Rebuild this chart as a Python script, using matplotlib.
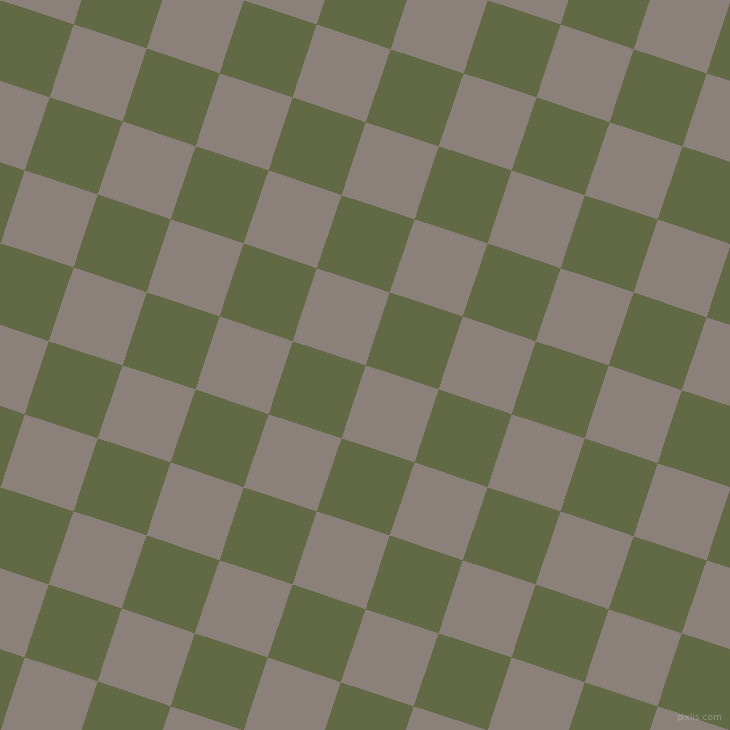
import numpy as np
import matplotlib
matplotlib.use("Agg")
import matplotlib.pyplot as plt
from matplotlib.colors import ListedColormap

# square colours (light, dark)
colors = ["#8b807a", "#616a45"]

# grid geometry (pixels)
origin = (74.0, 25.0)      # top-left corner of a light square
step_u = (73.03, 24.39)    # one square along the tilted rows
step_v = (-24.39, 73.03)   # one square down the tilted columns
idx = np.arange(-6, 16)

ii, jj = np.meshgrid(idx, idx)
X = origin[0] + ii * step_u[0] + jj * step_v[0]
Y = origin[1] + ii * step_u[1] + jj * step_v[1]
cells = (ii[:-1, :-1] + jj[:-1, :-1]) % 2

fig = plt.figure(figsize=(7.3, 7.3), dpi=100)
ax = fig.add_axes([0, 0, 1, 1])
ax.pcolormesh(X, Y, cells, cmap=ListedColormap(colors), vmin=0, vmax=1,
              edgecolors="none", antialiased=False)
ax.set_xlim(0, 730)
ax.set_ylim(730, 0)
ax.axis("off")

# faint watermark
ax.text(722, 717, "pixlis.com", color="white", alpha=0.3, fontsize=6.5,
        ha="right", va="center")

fig.savefig("out.png", dpi=100)
